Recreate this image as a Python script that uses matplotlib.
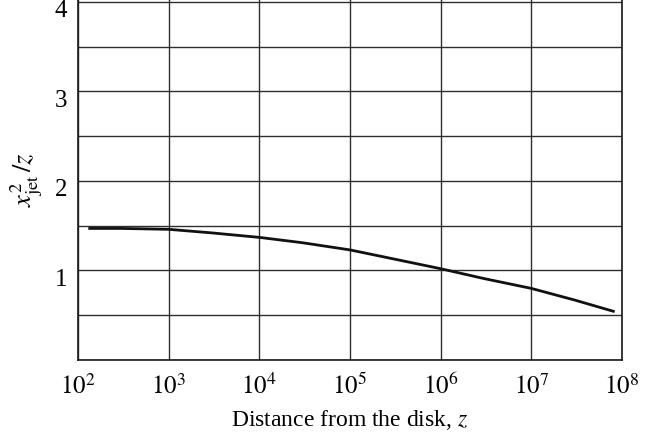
import matplotlib
matplotlib.use("Agg")
import matplotlib.pyplot as plt
from matplotlib.ticker import FixedLocator, FuncFormatter, MultipleLocator
from matplotlib.transforms import ScaledTranslation
import numpy as np

plt.rcParams['font.family'] = ['Liberation Serif', 'DejaVu Serif']
plt.rcParams['mathtext.fontset'] = 'stix'

# --- Daten ---
z_vals = [1.3e2, 3e2, 1e3, 3e3, 1e4, 3e4, 1e5, 3e5, 1e6, 3e6, 1e7, 3e7, 8.3e7]
ratio_vals = [1.47, 1.47, 1.46, 1.42, 1.37, 1.31, 1.23, 1.13, 1.02, 0.91, 0.80, 0.67, 0.54]
x_decades = [2, 3, 4, 5, 6, 7, 8]
y_ticks = [1, 2, 3, 4]

fig = plt.figure(figsize=(6.49, 4.36), dpi=100)
ax = fig.add_axes([78 / 649, 1 - 360 / 436, 544 / 649, 360.7 / 436])

ax.plot(z_vals, ratio_vals, color='#111111', linewidth=2.0, solid_capstyle='butt')

ax.set_xscale('log')
ax.set_xlim(1e2, 1e8)
ax.set_ylim(0, 4.03)

ax.xaxis.set_major_locator(FixedLocator([10.0 ** d for d in x_decades]))
ax.xaxis.set_minor_locator(FixedLocator([]))
ax.xaxis.set_major_formatter(FuncFormatter(lambda v, p: r'$10^{%d}$' % round(np.log10(v))))
ax.yaxis.set_major_locator(FixedLocator(y_ticks))
ax.yaxis.set_minor_locator(MultipleLocator(0.5))

ax.grid(True, which='both', color='#2e2e2e', linewidth=1.0)
ax.tick_params(which='both', length=0)
ax.tick_params(axis='x', labelsize=18, pad=10)
ax.tick_params(axis='y', labelsize=18, pad=8)

# y-Beschriftungen leicht nach unten versetzen (wie im Original)
shift = ScaledTranslation(0, -5 / 72, fig.dpi_scale_trans)
for lbl in ax.get_yticklabels():
    lbl.set_transform(lbl.get_transform() + shift)

for s in ax.spines.values():
    s.set_color('#1a1a1a')
    s.set_linewidth(1.2)
ax.spines['top'].set_visible(False)

ax.set_xlabel('Distance from the disk, $z$', fontsize=17, labelpad=6)
ax.set_ylabel(r'$x_{\mathrm{jet}}^{2}\,/z$', fontsize=19, labelpad=7)

fig.savefig('out.png', dpi=100)
